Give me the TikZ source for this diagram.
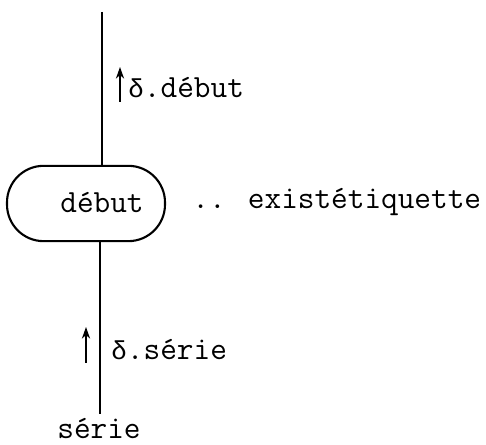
\documentclass[tikz,border=0pt]{standalone}
\usepackage{fontspec}
\newfontfamily\greekfont[Scale=0.8]{Liberation Mono}
\usetikzlibrary{positioning,arrows.meta}
\newcommand{\dlt}{{\greekfont δ}}

\begin{document}
\begin{tikzpicture}[
  x=0.015cm,y=-0.015cm,
  every node/.style={font=\ttfamily\fontsize{13.8}{16}\selectfont},
  flowline/.style={line width=0.8pt},
  stadium/.style={draw,line width=0.9pt,rounded corners=0.55cm,
                  minimum width=2.37cm,minimum height=1.13cm,inner sep=0pt},
  flowarrow/.style={line width=0.7pt,-{Stealth[length=5pt,width=3.5pt]}},
  labelstyle/.style={anchor=west,inner sep=0pt},
]
\useasboundingbox (0,0) rectangle (486,445);

% Box
\node[stadium] (box) at (86,203.5) {};
\node (debut) at (102,203) {début};

% Flow line
\coordinate (top) at (102,12);
\coordinate (bot) at (100,414);
\draw[flowline] (top) -- (top |- box.north);
\draw[flowline] (bot |- box.south) -- (bot);
\node[anchor=north,inner sep=0pt] (serie) at (99,418) {série};

% Attributes
\coordinate (a1s) at (120,102);
\coordinate (a1e) at (120,67);
\draw[flowarrow] (a1s) -- (a1e);
\node[labelstyle] (ddebut) at (128,88) {\dlt.début};

\coordinate (a2s) at (86,363);
\coordinate (a2e) at (86,327);
\draw[flowarrow] (a2s) -- (a2e);
\node[labelstyle] (dserie) at (111,350) {\dlt.série};

% Comment
\node[labelstyle] (exist) at (192,202) {.. existétiquette};

\end{tikzpicture}
\end{document}
